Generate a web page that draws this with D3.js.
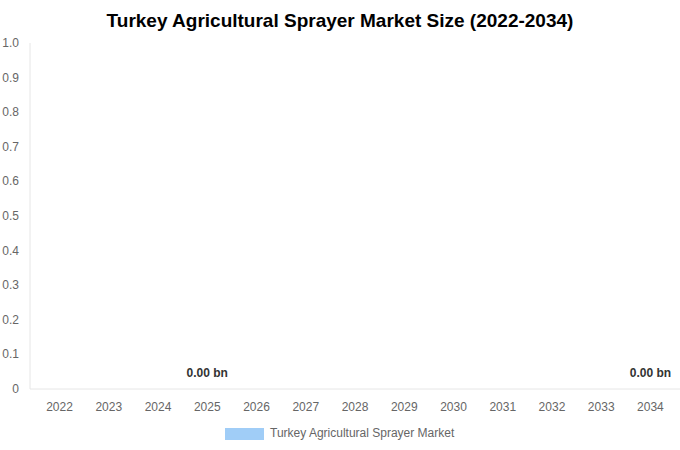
<!DOCTYPE html>
<html><head><meta charset="utf-8">
<script src="https://cdn.jsdelivr.net/npm/d3@7"></script>
<style>body{margin:0;background:#fff;font-family:"Liberation Sans",Arial,sans-serif}</style>
</head><body><svg id="c" width="680" height="450"></svg>
<script>
const years = ["2022","2023","2024","2025","2026","2027","2028","2029","2030","2031","2032","2033","2034"];
const values = [0,0,0,0,0,0,0,0,0,0,0,0,0];
const labeledYears = ["2025","2034"];
const yTicks = [0,0.1,0.2,0.3,0.4,0.5,0.6,0.7,0.8,0.9,1.0];
const seriesName = "Turkey Agricultural Sprayer Market";

const svg = d3.select("#c");
const m = {l:30, r:680, t:43, b:389};
const x = d3.scaleBand().domain(years).range([m.l, m.r]).padding(0.2);
const y = d3.scaleLinear().domain([0,1]).range([m.b, m.t]);

svg.append("text").attr("x",340).attr("y",27).attr("text-anchor","middle")
  .attr("font-size",19).attr("font-weight","bold").attr("fill","#000")
  .text("Turkey Agricultural Sprayer Market Size (2022-2034)");

svg.append("line").attr("x1",m.l).attr("x2",m.l).attr("y1",m.t).attr("y2",m.b).attr("stroke","#e6e6e6");
svg.append("line").attr("x1",m.l).attr("x2",m.r).attr("y1",m.b).attr("y2",m.b).attr("stroke","#e6e6e6");

svg.selectAll(".yt").data(yTicks).enter().append("text")
  .attr("x",19).attr("y",d=>y(d)+4).attr("text-anchor","end")
  .attr("font-size",12).attr("fill","#666").text(d=>d===0?"0":d.toFixed(1));

svg.selectAll(".xt").data(years).enter().append("text")
  .attr("x",d=>x(d)+x.bandwidth()/2).attr("y",411).attr("text-anchor","middle")
  .attr("font-size",12).attr("fill","#666").text(d=>d);

svg.selectAll(".bar").data(years).enter().append("rect")
  .attr("x",d=>x(d)).attr("width",x.bandwidth())
  .attr("y",(d,i)=>y(values[i])).attr("height",(d,i)=>m.b-y(values[i]))
  .attr("fill","#a0cdf7");

svg.selectAll(".vl").data(years.filter(d=>labeledYears.includes(d))).enter().append("text")
  .attr("x",d=>x(d)+x.bandwidth()/2).attr("y",d=>y(values[years.indexOf(d)])-12)
  .attr("text-anchor","middle").attr("font-size",12).attr("font-weight","bold").attr("fill","#333")
  .text(d=>values[years.indexOf(d)].toFixed(2)+" bn");

svg.append("rect").attr("x",225).attr("y",428).attr("width",39).attr("height",12).attr("fill","#a0cdf7");
svg.append("text").attr("x",270).attr("y",437).attr("font-size",12).attr("fill","#666").text(seriesName);
</script></body></html>
